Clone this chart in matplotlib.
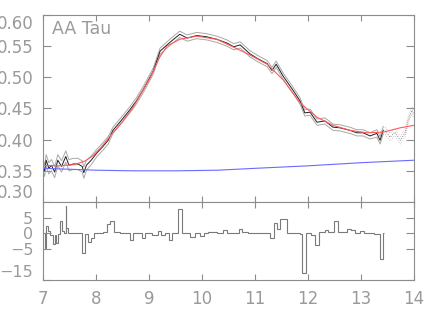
import matplotlib
matplotlib.use("Agg")
import matplotlib.pyplot as plt

# observed spectrum (black) with 1-sigma envelope (gray)
wave = [7.00, 7.03, 7.06, 7.11, 7.16, 7.22, 7.28, 7.35, 7.43, 7.49, 7.57, 7.66,
        7.74, 7.77, 7.82, 7.91, 8.01, 8.13, 8.23, 8.32, 8.45, 8.64, 8.76, 8.89,
        9.08, 9.21, 9.34, 9.45, 9.58, 9.72, 9.90, 10.09, 10.28, 10.47, 10.60,
        10.72, 10.90, 11.05, 11.23, 11.32, 11.40, 11.53, 11.72, 11.85, 11.94,
        12.04, 12.17, 12.32, 12.47, 12.60, 12.79, 12.92, 13.04, 13.17, 13.30,
        13.36, 13.42]
flux = [0.359, 0.350, 0.367, 0.354, 0.359, 0.348, 0.367, 0.357, 0.373, 0.359,
        0.361, 0.361, 0.357, 0.347, 0.359, 0.367, 0.378, 0.389, 0.399, 0.415,
        0.428, 0.448, 0.462, 0.480, 0.510, 0.542, 0.552, 0.560, 0.569, 0.563,
        0.567, 0.565, 0.561, 0.555, 0.549, 0.552, 0.538, 0.530, 0.522, 0.511,
        0.521, 0.502, 0.479, 0.462, 0.443, 0.444, 0.428, 0.430, 0.420, 0.419,
        0.415, 0.411, 0.411, 0.406, 0.410, 0.399, 0.415]
err = [0.009, 0.009, 0.009, 0.009, 0.009, 0.009, 0.009, 0.009, 0.009, 0.009,
       0.009, 0.009, 0.009, 0.009, 0.008, 0.007, 0.006, 0.006, 0.006, 0.005,
       0.005, 0.005, 0.005, 0.005, 0.005, 0.005, 0.005, 0.005, 0.005, 0.005,
       0.005, 0.005, 0.005, 0.005, 0.005, 0.005, 0.005, 0.005, 0.005, 0.005,
       0.005, 0.005, 0.005, 0.005, 0.005, 0.005, 0.005, 0.005, 0.005, 0.005,
       0.005, 0.005, 0.005, 0.005, 0.006, 0.006, 0.006]

# low-quality tail (dotted)
tail_wave = [13.42, 13.45, 13.55, 13.64, 13.74, 13.83, 13.89, 13.96, 14.00]
tail_flux = [0.415, 0.415, 0.404, 0.412, 0.399, 0.410, 0.431, 0.447, 0.440]

# model fit (red) and continuum (blue)
model_wave = [7.0, 7.3, 7.6, 7.8, 7.94, 8.1, 8.26, 8.5, 8.7, 9.02, 9.2, 9.34,
              9.58, 9.9, 10.28, 10.58, 10.9, 11.23, 11.53, 11.85, 12.17, 12.47,
              12.79, 13.11, 13.42, 13.74, 14.0]
model_flux = [0.359, 0.358, 0.360, 0.366, 0.374, 0.388, 0.405, 0.429, 0.452,
              0.499, 0.532, 0.550, 0.561, 0.566, 0.561, 0.549, 0.536, 0.521,
              0.496, 0.459, 0.436, 0.423, 0.415, 0.411, 0.412, 0.419, 0.423]
cont_wave = [7.0, 8.0, 8.7, 9.5, 10.3, 11.0, 12.0, 13.0, 14.0]
cont_flux = [0.354, 0.351, 0.350, 0.350, 0.351, 0.354, 0.358, 0.363, 0.367]

# residuals (step plot)
res_edges = [7.00, 7.03, 7.06, 7.09, 7.14, 7.19, 7.22, 7.25, 7.28, 7.33, 7.36,
             7.39, 7.43, 7.44, 7.47, 7.55, 7.74, 7.79, 7.85, 7.91, 7.97, 8.13,
             8.21, 8.26, 8.34, 8.45, 8.64, 8.70, 8.87, 8.92, 9.06, 9.17, 9.23,
             9.30, 9.37, 9.43, 9.54, 9.62, 9.77, 9.86, 9.96, 10.03, 10.12,
             10.28, 10.40, 10.47, 10.69, 10.76, 10.87, 11.28, 11.35, 11.41,
             11.47, 11.60, 11.84, 11.89, 11.97, 12.06, 12.14, 12.20, 12.32,
             12.37, 12.49, 12.57, 12.74, 12.82, 12.88, 12.98, 13.06, 13.25,
             13.35, 13.42, 13.43]
res_vals = [0.0, -4.9, 2.4, 0.7, -0.6, -3.5, -0.6, -3.0, -0.3, 4.0, 0.8, 0.2,
            8.6, 1.8, 0.2, 0.1, -6.2, -0.3, -2.8, -1.7, 0.2, 0.5, 2.8, 3.9, 0.5,
            0.2, -2.1, 0.0, -1.4, 0.0, -0.6, 0.8, -0.6, 0.0, -2.1, 0.2, 7.7,
            0.2, -1.1, 0.0, -0.9, 0.1, 0.4, 0.1, 1.0, 0.0, 1.5, 0.4, 0.0, -1.4,
            3.2, 1.5, 4.7, 0.1, -0.3, -12.9, 0.1, -0.6, -3.9, 0.3, 1.1, 0.3,
            4.0, 0.3, 1.5, 1.1, 0.1, 0.75, 0.1, -0.3, -8.2, 0.2]

axcol = "#8c8c8c"
txtcol = "#9a9a9a"
plt.rcParams["font.family"] = ["DejaVu Sans"]

fig = plt.figure(figsize=(4.36, 3.12), dpi=100)
ax1 = fig.add_axes([0.0986, 0.3526, 0.8509, 0.5994])
ax2 = fig.add_axes([0.0986, 0.1026, 0.8509, 0.25])

upper = [f + e for f, e in zip(flux, err)]
lower = [f - e for f, e in zip(flux, err)]
ax1.plot(wave, upper, color="#a8a8a8", lw=0.7)
ax1.plot(wave, lower, color="#a8a8a8", lw=0.7)
ax1.plot(wave, flux, color="#202020", lw=0.7)
ax1.plot(tail_wave, [f + 0.006 for f in tail_flux], color="#b8b8b8", lw=0.6, ls=":")
ax1.plot(tail_wave, [f - 0.006 for f in tail_flux], color="#b8b8b8", lw=0.6, ls=":")
ax1.plot(tail_wave, tail_flux, color="#606060", lw=0.6, ls=":")
ax1.plot(model_wave, model_flux, color="#ff5a5a", lw=0.8)
ax1.plot(cont_wave, cont_flux, color="#6a6aff", lw=0.8)
ax1.text(0.023, 0.975, "AA Tau", transform=ax1.transAxes, ha="left", va="top",
         color=txtcol, fontsize=12.5)

ax2.stairs(res_vals, res_edges, color="#7a7a7a", lw=0.8, baseline=None)

ax1.set_xlim(7, 14)
ax1.set_ylim(0.30, 0.60)
ax2.set_xlim(7, 14)
ax2.set_ylim(-15, 10)

ax1.set_yticks([0.30, 0.35, 0.40, 0.45, 0.50, 0.55, 0.60])
ax1.set_yticklabels(["0.30", "0.35", "0.40", "0.45", "0.50", "0.55", "0.60"])
ax2.set_yticks([-15, -5, 0, 5])
ax2.set_yticklabels(["\u221215", "\u22125", "0", "5"])
ax1.set_xticks(range(7, 15))
ax1.set_xticklabels([])
ax2.set_xticks(range(7, 15))

for ax in (ax1, ax2):
    for s in ax.spines.values():
        s.set_color(axcol)
        s.set_linewidth(0.8)
    ax.tick_params(direction="in", top=True, right=True, color=axcol,
                   labelcolor=txtcol, labelsize=12, width=0.8)
    ax.tick_params(axis="y", length=6, pad=7)
    ax.tick_params(axis="x", length=4, pad=7)
ax2.tick_params(axis="y", labelsize=11.5)

# keep the end labels inside the panel span
labs = ax1.get_yticklabels()
labs[0].set_va("bottom")
labs[-1].set_va("top")
ax2.get_yticklabels()[0].set_va("bottom")

fig.savefig("out.png", dpi=100)
